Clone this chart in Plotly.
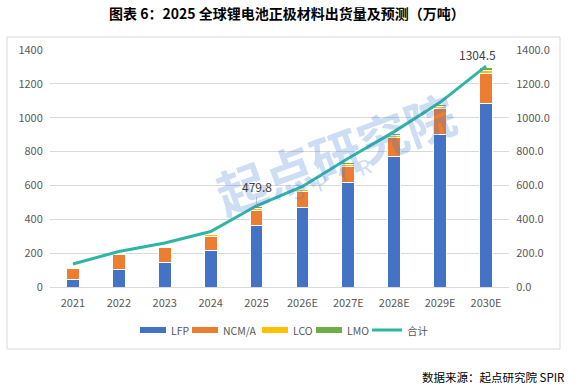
import plotly.graph_objects as go

years = ["2021", "2022", "2023", "2024", "2025", "2026E", "2027E", "2028E", "2029E", "2030E"]
lfp = [47, 106, 145, 216, 363, 470, 617, 771, 903, 1083]
ncm = [65, 84, 89, 83, 89, 94, 93, 112, 149, 177]
lco = [6, 4, 8, 12, 12, 10, 12, 11, 12, 16]
lmo = [3, 3, 4, 8, 10, 9, 13, 12, 12, 20]
total = [136, 210, 260, 328, 479.8, 594, 761, 918, 1091, 1304.5]
left_ticks = [0, 200, 400, 600, 800, 1000, 1200, 1400]
right_ticktext = ["0.0", "200.0", "400.0", "600.0", "800.0", "1000.0", "1200.0", "1400.0"]
series_names = ["LFP", "NCM/A", "LCO", "LMO", "合计"]
series_colors = ["#4472C4", "#ED7D31", "#FFC000", "#70AD47", "#2DB5A5"]

FONT = "Noto Sans CJK SC"
GRAY = "#595959"
PW, PH = 459, 237  # plot area size in px
def px(x):
    return (x - 50) / PW
def py(y):
    return (287 - y) / PH

fig = go.Figure()
for name, vals, col in zip(series_names[:4], [lfp, ncm, lco, lmo], series_colors[:4]):
    fig.add_trace(go.Bar(x=years, y=vals, name=name, marker_color=col,
                         marker_line=dict(color="white", width=1)))

fig.add_trace(go.Scatter(x=years, y=total, name=series_names[4], mode="lines",
                         line=dict(color=series_colors[4], width=3)))

# watermark (faint)
fig.add_annotation(text="<b>起点研究院</b>", xref="paper", yref="paper", x=px(335), y=py(152),
                   showarrow=False, textangle=-20, opacity=0.25,
                   font=dict(family=FONT, size=50, color="#3A7BD5"))
fig.add_annotation(text="S   P   I   R", xref="paper", yref="paper", x=px(378), y=py(178),
                   showarrow=False, textangle=-20, opacity=0.25,
                   font=dict(family=FONT, size=20, color="#3A7BD5"))

# data labels
fig.add_annotation(x=4, y=total[4], xref="x", yref="y", text=str(total[4]),
                   showarrow=True, arrowhead=0, arrowwidth=0.6, arrowcolor="#A0A0A0",
                   ax=0, ay=-9, yanchor="bottom",
                   font=dict(family=FONT, size=12, color="#404040"))
fig.add_annotation(x=9, y=total[9], xref="x", yref="y", text=str(total[9]),
                   showarrow=False, xshift=-9, yshift=1, yanchor="bottom",
                   font=dict(family=FONT, size=12, color="#404040"))

# title & source
fig.add_annotation(text="<b>图表 6：2025 全球锂电池正极材料出货量及预测（万吨）</b>",
                   xref="paper", yref="paper", x=px(287), y=py(13),
                   showarrow=False, xanchor="center", yanchor="middle",
                   font=dict(family=FONT, size=14, color="#000000"))
fig.add_annotation(text="数据来源：起点研究院 SPIR",
                   xref="paper", yref="paper", x=px(566), y=py(377),
                   showarrow=False, xanchor="right", yanchor="middle",
                   font=dict(family=FONT, size=11.5, color="#000000"))

# chart frame
fig.add_shape(type="rect", xref="paper", yref="paper",
              x0=px(7), x1=px(560), y0=py(349), y1=py(37),
              line=dict(color="#D9D9D9", width=1), layer="below")

# legend (Excel style: wide swatches)
legend_x = [140, 192, 262, 316, 372]
legend_w = [26, 26, 26, 26, 30]
LY = 330
for i, (name, col) in enumerate(zip(series_names, series_colors)):
    x0 = legend_x[i]
    x1 = x0 + legend_w[i]
    if i < 4:
        fig.add_shape(type="rect", xref="paper", yref="paper",
                      x0=px(x0), x1=px(x1), y0=py(LY + 3), y1=py(LY - 3),
                      fillcolor=col, line=dict(width=0))
    else:
        fig.add_shape(type="line", xref="paper", yref="paper",
                      x0=px(x0), x1=px(x1), y0=py(LY), y1=py(LY),
                      line=dict(color=col, width=3))
    fig.add_annotation(text=name, xref="paper", yref="paper",
                       x=px(x1 + 3), y=py(LY), xanchor="left", yanchor="middle",
                       showarrow=False, font=dict(family=FONT, size=10.5, color=GRAY))

fig.update_layout(
    width=574, height=390,
    margin=dict(l=50, r=65, t=50, b=103),
    paper_bgcolor="white", plot_bgcolor="white",
    barmode="stack", bargap=0.72,
    font=dict(family=FONT, size=11, color=GRAY),
    showlegend=False,
    xaxis=dict(type="category", categoryorder="array", categoryarray=years,
               showgrid=False, showline=True, linecolor="#D9D9D9",
               ticks="outside", ticklen=6, tickcolor="rgba(0,0,0,0)",
               tickfont=dict(size=11, color=GRAY)),
    yaxis=dict(range=[0, 1400], tickvals=left_ticks, showgrid=True,
               gridcolor="#D9D9D9", zeroline=False, showline=False,
               ticks="outside", ticklen=4, tickcolor="rgba(0,0,0,0)",
               tickfont=dict(size=11, color=GRAY)),
    yaxis2=dict(range=[0, 1400], tickvals=left_ticks, ticktext=right_ticktext,
                overlaying="y", side="right", showgrid=False, zeroline=False,
                ticks="outside", ticklen=4, tickcolor="rgba(0,0,0,0)",
                tickfont=dict(size=11, color=GRAY)),
)
# invisible trace so the right axis is drawn
fig.add_trace(go.Scatter(x=years, y=total, yaxis="y2", mode="lines",
                         line=dict(width=0), showlegend=False, hoverinfo="skip"))

fig.write_html("out.html", config={"displayModeBar": False},
               post_script="document.body.style.margin='0';")
